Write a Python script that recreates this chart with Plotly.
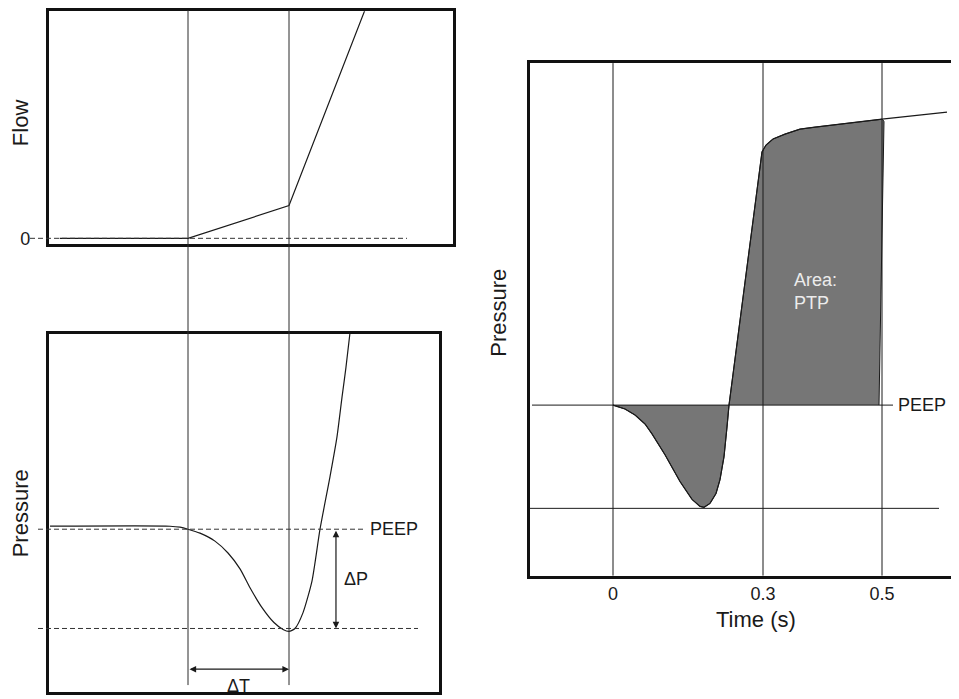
import plotly.graph_objects as go

# ---------------- data (schematic units) ----------------
# Top-left: flow vs time (time unit: 0 = effort onset, 1 = trigger)
flow_t = [-1.27, 0.0, 1.0, 1.752]
flow_v = [0.0, 0.0, 1.0, 6.97]

# Bottom-left: airway pressure (0 = PEEP, -1 = maximal drop)
press_t = [-1.366, -0.178, -0.079, 0.0, 0.119, 0.267, 0.396, 0.515, 0.614, 0.733,
           0.851, 0.941, 1.0, 1.059, 1.139, 1.228, 1.307, 1.406, 1.475, 1.525, 1.564, 1.604]
press_v = [0.03, 0.03, 0.02, 0.0, -0.04, -0.12, -0.24, -0.40, -0.59, -0.79,
           -0.94, -1.01, -1.03, -1.0, -0.84, -0.52, 0.0, 0.53, 0.93, 1.33, 1.63, 1.98]

# Right: pressure vs time (s), PEEP = 0
ptp_t = [0.0, 0.024, 0.044, 0.064, 0.078, 0.104, 0.134, 0.158, 0.174, 0.182, 0.194,
         0.206, 0.214, 0.222, 0.228, 0.232, 0.298, 0.306, 0.320, 0.344, 0.374, 0.404,
         0.538, 0.668]
ptp_p = [0.0, -0.038, -0.096, -0.183, -0.279, -0.481, -0.740, -0.913, -0.981, -0.990, -0.952,
         -0.856, -0.721, -0.5, -0.212, 0.0, 2.452, 2.519, 2.577, 2.625, 2.673, 2.692,
         2.769, 2.837]
cross_idx = 15      # index where the curve returns to PEEP
plateau_idx = 22    # index of end of shaded area
edge_t = [0.542, 0.532]   # right edge of shaded area
edge_p = [2.75, 0.0]

time_tick_pos = [0.0, 0.3, 0.538]
time_tick_text = ["0", "0.3", "0.5"]

ptp_min = -1.0
pressure_min = -1.0
dT_level = -1.41
dP_pos = 1.465

# ---------------- layout helpers ----------------
PAGE_OFF = 8                      # browser body margin
W, H = 959 - PAGE_OFF, 699 - PAGE_OFF
FONT = "Liberation Sans, Arial, sans-serif"
INK = "#1a1a1a"
FILL = "#767676"
LW = 2.5


def px(x):
    return (x - PAGE_OFF) / W


def py(y):
    return 1 - (y - PAGE_OFF) / H


def xr(left, right, zero, scale):
    return [(left - zero) / scale, (right - zero) / scale]


def yr(bottom, top, zero, scale):
    return [(zero - bottom) / scale, (zero - top) / scale]


# panel frames (screen pixels of the plotting area)
F_L, F_R, F_T, F_B = 48.5, 452.75, 11.25, 245.75
P_L, P_R, P_T, P_B = 48.5, 438.75, 336.25, 697.0
R_L, R_R, R_T, R_B = 529.5, 959.0, 63.5, 579.75

fig = go.Figure()

fig.add_trace(go.Scatter(x=flow_t, y=flow_v, mode="lines",
                         line=dict(color=INK, width=1.2), xaxis="x", yaxis="y",
                         showlegend=False, hoverinfo="skip"))
fig.add_trace(go.Scatter(x=press_t, y=press_v, mode="lines", line_shape="spline",
                         line=dict(color=INK, width=1.2, smoothing=0.6), xaxis="x2", yaxis="y2",
                         showlegend=False, hoverinfo="skip"))

neg_t = ptp_t[:cross_idx + 1]
neg_p = ptp_p[:cross_idx + 1]
pos_t = ptp_t[cross_idx:plateau_idx + 1] + edge_t
pos_p = ptp_p[cross_idx:plateau_idx + 1] + edge_p
fig.add_trace(go.Scatter(x=neg_t, y=neg_p, mode="lines", fill="toself", fillcolor=FILL,
                         line=dict(color=INK, width=1), xaxis="x3", yaxis="y3",
                         showlegend=False, hoverinfo="skip"))
fig.add_trace(go.Scatter(x=pos_t, y=pos_p, mode="lines", fill="toself", fillcolor=FILL,
                         line=dict(color=INK, width=1), xaxis="x3", yaxis="y3",
                         showlegend=False, hoverinfo="skip"))
fig.add_trace(go.Scatter(x=ptp_t, y=ptp_p, mode="lines",
                         line=dict(color=INK, width=1.2), xaxis="x3", yaxis="y3",
                         showlegend=False, hoverinfo="skip"))

box = dict(showgrid=False, zeroline=False, showline=True, mirror=True,
           linecolor="#111", linewidth=LW, showticklabels=False, ticks="")

fig.update_layout(
    width=W, height=H, margin=dict(l=0, r=0, t=0, b=0),
    paper_bgcolor="white", plot_bgcolor="white",
    font=dict(family=FONT, size=18, color=INK),
    xaxis=dict(box, domain=[px(F_L), px(F_R)], anchor="y", range=xr(F_L, F_R, 188, 101)),
    yaxis=dict(box, domain=[py(F_B), py(F_T)], anchor="x", range=yr(F_B, F_T, 240, 33),
               showticklabels=True, tickvals=[0], ticktext=["0"], ticklabelstandoff=12,
               tickfont=dict(size=18, color=INK)),
    xaxis2=dict(box, domain=[px(P_L), px(P_R)], anchor="y2", range=xr(P_L, P_R, 188, 101)),
    yaxis2=dict(box, domain=[py(P_B), py(P_T)], anchor="x2", range=yr(P_B, P_T, 533, 100)),
    xaxis3=dict(box, domain=[px(R_L), px(R_R)], anchor="y3", range=xr(R_L, R_R, 613, 500),
                showticklabels=True, tickvals=time_tick_pos, ticktext=time_tick_text,
                tickfont=dict(size=18, color=INK), ticklabelstandoff=0),
    yaxis3=dict(box, mirror=False, domain=[py(R_B), py(R_T)], anchor="x3",
                range=yr(R_B, R_T, 408, 104)),
)

shapes = []
for xv in [0.0, 1.0]:
    shapes.append(dict(type="line", xref="x2", yref="paper", x0=xv, x1=xv,
                       y0=py(690), y1=py(10), line=dict(color="#2b2b2b", width=1)))
dash = "5px,3px"
shapes.append(dict(type="line", xref="paper", yref="y", x0=px(30), x1=px(407), y0=0, y1=0,
                   line=dict(color="#333", width=1, dash=dash)))
shapes.append(dict(type="line", xref="paper", yref="y2", x0=px(38), x1=px(365), y0=0, y1=0,
                   line=dict(color="#333", width=1, dash=dash)))
shapes.append(dict(type="line", xref="paper", yref="y2", x0=px(38), x1=px(418),
                   y0=pressure_min, y1=pressure_min,
                   line=dict(color="#333", width=1, dash=dash)))
for xv in time_tick_pos:
    shapes.append(dict(type="line", xref="x3", yref="y3 domain", x0=xv, x1=xv, y0=0, y1=1,
                       line=dict(color=INK, width=1)))
shapes.append(dict(type="line", xref="x3", yref="y3", x0=-0.162, x1=0.56, y0=0, y1=0,
                   line=dict(color=INK, width=1)))
shapes.append(dict(type="line", xref="x3", yref="y3", x0=-0.168, x1=0.652, y0=ptp_min, y1=ptp_min,
                   line=dict(color=INK, width=1)))
fig.update_layout(shapes=shapes)

C = dict(xanchor="center", yanchor="middle", showarrow=False)
ann = []
ann.append(dict(C, text="Flow", xref="paper", yref="paper", x=px(20), y=py(124), textangle=-90,
                font=dict(size=22)))
ann.append(dict(C, text="Pressure", xref="paper", yref="paper", x=px(20), y=py(517), textangle=-90,
                font=dict(size=22)))
ann.append(dict(C, text="Pressure", xref="paper", yref="paper", x=px(499), y=py(315), textangle=-90,
                font=dict(size=22)))
ann.append(dict(C, text="Time (s)", xref="x3", yref="paper", x=0.286, y=py(624),
                font=dict(size=22)))
ann.append(dict(C, text="PEEP", xref="x2", yref="y2", x=1.782, y=0, xanchor="left"))
ann.append(dict(C, text="ΔP", xref="x2", yref="y2", x=1.525, y=-0.5, xanchor="left"))
ann.append(dict(C, text="ΔT", xref="x2", yref="y2", x=0.5, y=-1.58))
ann.append(dict(C, text="PEEP", xref="x3", yref="y3", x=0.566, y=0, xanchor="left"))
ann.append(dict(C, text="Area:<br>PTP", xref="x3", yref="y3", x=0.358, y=1.096, xanchor="left",
                align="left", font=dict(color="#ececec")))
arrow = dict(text="", showarrow=True, arrowside="end+start", arrowhead=2, startarrowhead=2,
             arrowsize=1.1, startarrowsize=1.1, arrowwidth=1.2, arrowcolor=INK,
             standoff=0, startstandoff=0, xref="x2", yref="y2", axref="x2", ayref="y2")
ann.append(dict(arrow, x=1.0, y=dT_level, ax=0.0, ay=dT_level))
ann.append(dict(arrow, x=dP_pos, y=pressure_min, ax=dP_pos, ay=0.0))
fig.update_layout(annotations=ann)

fig.write_html("out.html")
